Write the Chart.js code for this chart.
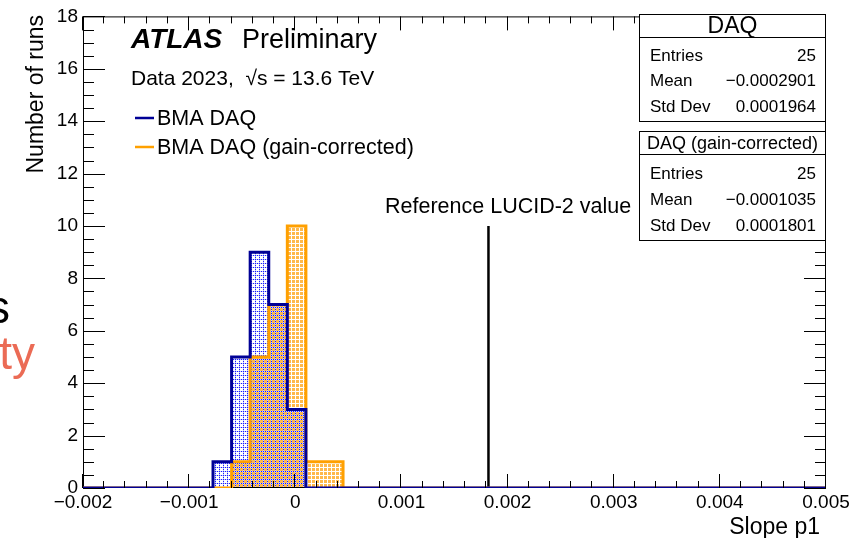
<!DOCTYPE html>
<html><head><meta charset="utf-8">
<script src="https://cdn.jsdelivr.net/npm/chart.js@4/dist/chart.umd.min.js"></script>
<style>html,body{margin:0;padding:0;background:#fff;overflow:hidden}#wrap{width:864px;height:538px;position:relative}</style>
</head><body><div id="wrap"><canvas id="c" width="864" height="538"></canvas></div>
<script>
// ---------- data ----------
const binLow = -0.002;
const binWidth = 0.000175;
const daqCounts =      [0,0,0,0,0,0,0,1,5,9,7,3,0,0,0,0,0,0,0,0,0,0,0,0,0,0,0,0,0,0,0,0,0,0,0,0,0,0,0,0];
const gainCorrCounts = [0,0,0,0,0,0,0,0,1,5,7,10,1,1,0,0,0,0,0,0,0,0,0,0,0,0,0,0,0,0,0,0,0,0,0,0,0,0,0,0];
const refValue = 0.00182;
const refHeight = 10;
const xTickValues = [-0.002,-0.001,0,0.001,0.002,0.003,0.004,0.005];
const xTickLabels = ['\u22120.002','\u22120.001','0','0.001','0.002','0.003','0.004','0.005'];
const yTickValues = [0,2,4,6,8,10,12,14,16,18];
const yTickLabels = ['0','2','4','6','8','10','12','14','16','18'];
const statLabels = ['Entries','Mean','Std Dev'];
const daqStats = ['25','\u22120.0002901','0.0001964'];
const gainCorrStats = ['25','\u22120.0001035','0.0001801'];

// ---------- build ----------
const FONT = "'Liberation Sans', Arial, Helvetica, sans-serif";
const BLUE = 'rgb(0,0,150)';
const ORANGE = 'rgb(255,160,0)';
const edges = Array.from({length: daqCounts.length + 1}, (_, k) => binLow + k * binWidth);
function histPoints(counts){
  const pts = counts.map((c, k) => ({x: edges[k], y: c}));
  pts.push({x: edges[counts.length], y: 0});
  return pts;
}
function makePattern(cellSets){
  const t = document.createElement('canvas'); t.width = 4; t.height = 4;
  const g = t.getContext('2d');
  cellSets.forEach(([color, cells]) => { g.fillStyle = color; cells.forEach(([i,j]) => g.fillRect(i, j, 1, 1)); });
  return document.getElementById('c').getContext('2d').createPattern(t, 'repeat');
}
const orangeCells = [];
for (let i = 0; i < 3; i++) for (let j = 0; j < 3; j++) orangeCells.push([i, j]);
const bluePattern = makePattern([
  ['rgb(30,30,255)', [[1,3],[3,1],[3,3]]],
  ['rgb(200,205,255)', [[0,3],[2,3],[3,0],[3,2]]]
]);
const orangePattern = makePattern([['rgb(255,185,75)', orangeCells]]);

const decor = {
  id: 'decor',
  beforeDatasetsDraw(chart){
    const {ctx, chartArea: a} = chart;
    ctx.save();
    ctx.strokeStyle = '#000'; ctx.lineWidth = 1;
    ctx.strokeRect(a.left + 0.5, a.top + 0.5, a.right - a.left - 1, a.bottom - a.top - 1);
    ctx.restore();
  },
  afterDatasetsDraw(chart){
    const {ctx, chartArea: a, scales: {x, y}} = chart;
    ctx.save();
    ctx.strokeStyle = '#000'; ctx.lineWidth = 1;
    ctx.beginPath();
    for (let i = 0; i <= 35; i++){
      const px = Math.round(x.getPixelForValue(binLow + i * 0.0002)) - 0.5;
      const L = (i % 5 === 0) ? 14 : 7;
      ctx.moveTo(px, a.bottom); ctx.lineTo(px, a.bottom - L);
      ctx.moveTo(px, a.top); ctx.lineTo(px, a.top + L);
    }
    for (let i = 0; i <= 36; i++){
      const py = Math.round(y.getPixelForValue(i * 0.5)) + 0.5;
      const L = (i % 4 === 0) ? 22 : 11;
      ctx.moveTo(a.left, py); ctx.lineTo(a.left + L, py);
      ctx.moveTo(a.right, py); ctx.lineTo(a.right - L, py);
    }
    ctx.stroke();
    ctx.restore();
  },
  afterDraw(chart){
    const {ctx} = chart;
    ctx.save();
    ctx.fillStyle = '#000';
    // axis titles
    ctx.font = `23px ${FONT}`;
    ctx.textAlign = 'right'; ctx.textBaseline = 'alphabetic';
    ctx.fillText('Slope p1', 820, 534);
    ctx.save(); ctx.translate(43, 15); ctx.rotate(-Math.PI/2);
    ctx.fillText('Number of runs', 0, 0); ctx.restore();
    // ATLAS label
    ctx.textAlign = 'left';
    ctx.font = `italic bold 28px ${FONT}`;
    ctx.fillText('ATLAS', 131, 48);
    ctx.font = `27px ${FONT}`;
    ctx.fillText('Preliminary', 242, 48);
    ctx.font = `21px ${FONT}`;
    ctx.fillText('Data 2023,  \u221As = 13.6 TeV', 131, 85);
    // legend
    ctx.font = `21.5px ${FONT}`;
    ctx.textBaseline = 'middle';
    [[BLUE, 'BMA DAQ', 118], [ORANGE, 'BMA DAQ (gain-corrected)', 147]].forEach(([col, txt, yy]) => {
      ctx.strokeStyle = col; ctx.lineWidth = 2.5;
      ctx.beginPath(); ctx.moveTo(135, yy); ctx.lineTo(154, yy); ctx.stroke();
      ctx.fillText(txt, 157, yy + 1);
    });
    // reference label
    ctx.textBaseline = 'alphabetic';
    ctx.font = `21.5px ${FONT}`;
    ctx.fillText('Reference LUCID-2 value', 385, 213);
    // stats boxes
    function statBox(top, h, title, titleSize, vals, rowsY){
      ctx.fillStyle = '#fff'; ctx.fillRect(639.5, top + 0.5, 186, h);
      ctx.strokeStyle = '#000'; ctx.lineWidth = 1;
      ctx.strokeRect(639.5, top + 0.5, 186, h);
      ctx.beginPath(); ctx.moveTo(639.5, top + 23.5); ctx.lineTo(825.5, top + 23.5); ctx.stroke();
      ctx.fillStyle = '#000';
      ctx.textBaseline = 'middle'; ctx.textAlign = 'center';
      ctx.font = `${titleSize}px ${FONT}`;
      ctx.fillText(title, 732.5, top + 13);
      ctx.font = `17px ${FONT}`;
      statLabels.forEach((lab, i) => {
        ctx.textAlign = 'left'; ctx.fillText(lab, 650, rowsY[i]);
        ctx.textAlign = 'right'; ctx.fillText(vals[i], 816, rowsY[i]);
      });
    }
    statBox(14, 107, 'DAQ', 23, daqStats, [56, 81, 107]);
    statBox(131, 109, 'DAQ (gain-corrected)', 18, gainCorrStats, [174, 200, 226]);
    // slide fragments at left edge
    ctx.textAlign = 'right'; ctx.textBaseline = 'alphabetic';
    ctx.font = `46px ${FONT}`;
    ctx.fillStyle = '#000'; ctx.fillText('s', 10, 323);
    ctx.fillStyle = '#eb6b55'; ctx.fillText('ty', 35, 369);
    ctx.restore();
  }
};

new Chart(document.getElementById('c'), {
  type: 'line',
  data: {
    datasets: [
      {label: 'BMA DAQ', data: histPoints(daqCounts), borderColor: BLUE, backgroundColor: bluePattern,
       fill: 'origin', stepped: 'before', borderWidth: 3, pointRadius: 0, tension: 0},
      {label: 'BMA DAQ (gain-corrected)', data: histPoints(gainCorrCounts), borderColor: ORANGE, backgroundColor: orangePattern,
       fill: 'origin', stepped: 'before', borderWidth: 3, pointRadius: 0, tension: 0},
      {label: 'Reference LUCID-2 value', data: [{x: refValue, y: 0}, {x: refValue, y: refHeight}],
       borderColor: '#000', borderWidth: 2.5, pointRadius: 0, fill: false}
    ]
  },
  options: {
    responsive: false, animation: false, devicePixelRatio: 1,
    layout: {padding: {left: 0, right: 38, top: 15, bottom: 0}},
    plugins: {legend: {display: false}, tooltip: {enabled: false}, filler: {drawTime: 'beforeDatasetsDraw'}},
    scales: {
      x: {type: 'linear', min: -0.002, max: 0.005,
          grid: {display: false, drawTicks: false}, border: {display: false},
          afterBuildTicks: s => { s.ticks = xTickValues.map(v => ({value: v})); },
          afterFit: s => { s.height = 50; },
          ticks: {autoSkip: false, maxRotation: 0, minRotation: 0, padding: 3, color: '#000',
                  font: {family: FONT, size: 19}, callback: (v, i) => xTickLabels[i]}},
      y: {type: 'linear', min: 0, max: 18,
          grid: {display: false, drawTicks: false}, border: {display: false},
          afterBuildTicks: s => { s.ticks = yTickValues.map(v => ({value: v})); },
          afterFit: s => { s.width = 83; },
          ticks: {autoSkip: false, padding: 5, color: '#000',
                  font: {family: FONT, size: 19}, callback: (v, i) => yTickLabels[i]}}
    }
  },
  plugins: [decor]
});
</script></body></html>
